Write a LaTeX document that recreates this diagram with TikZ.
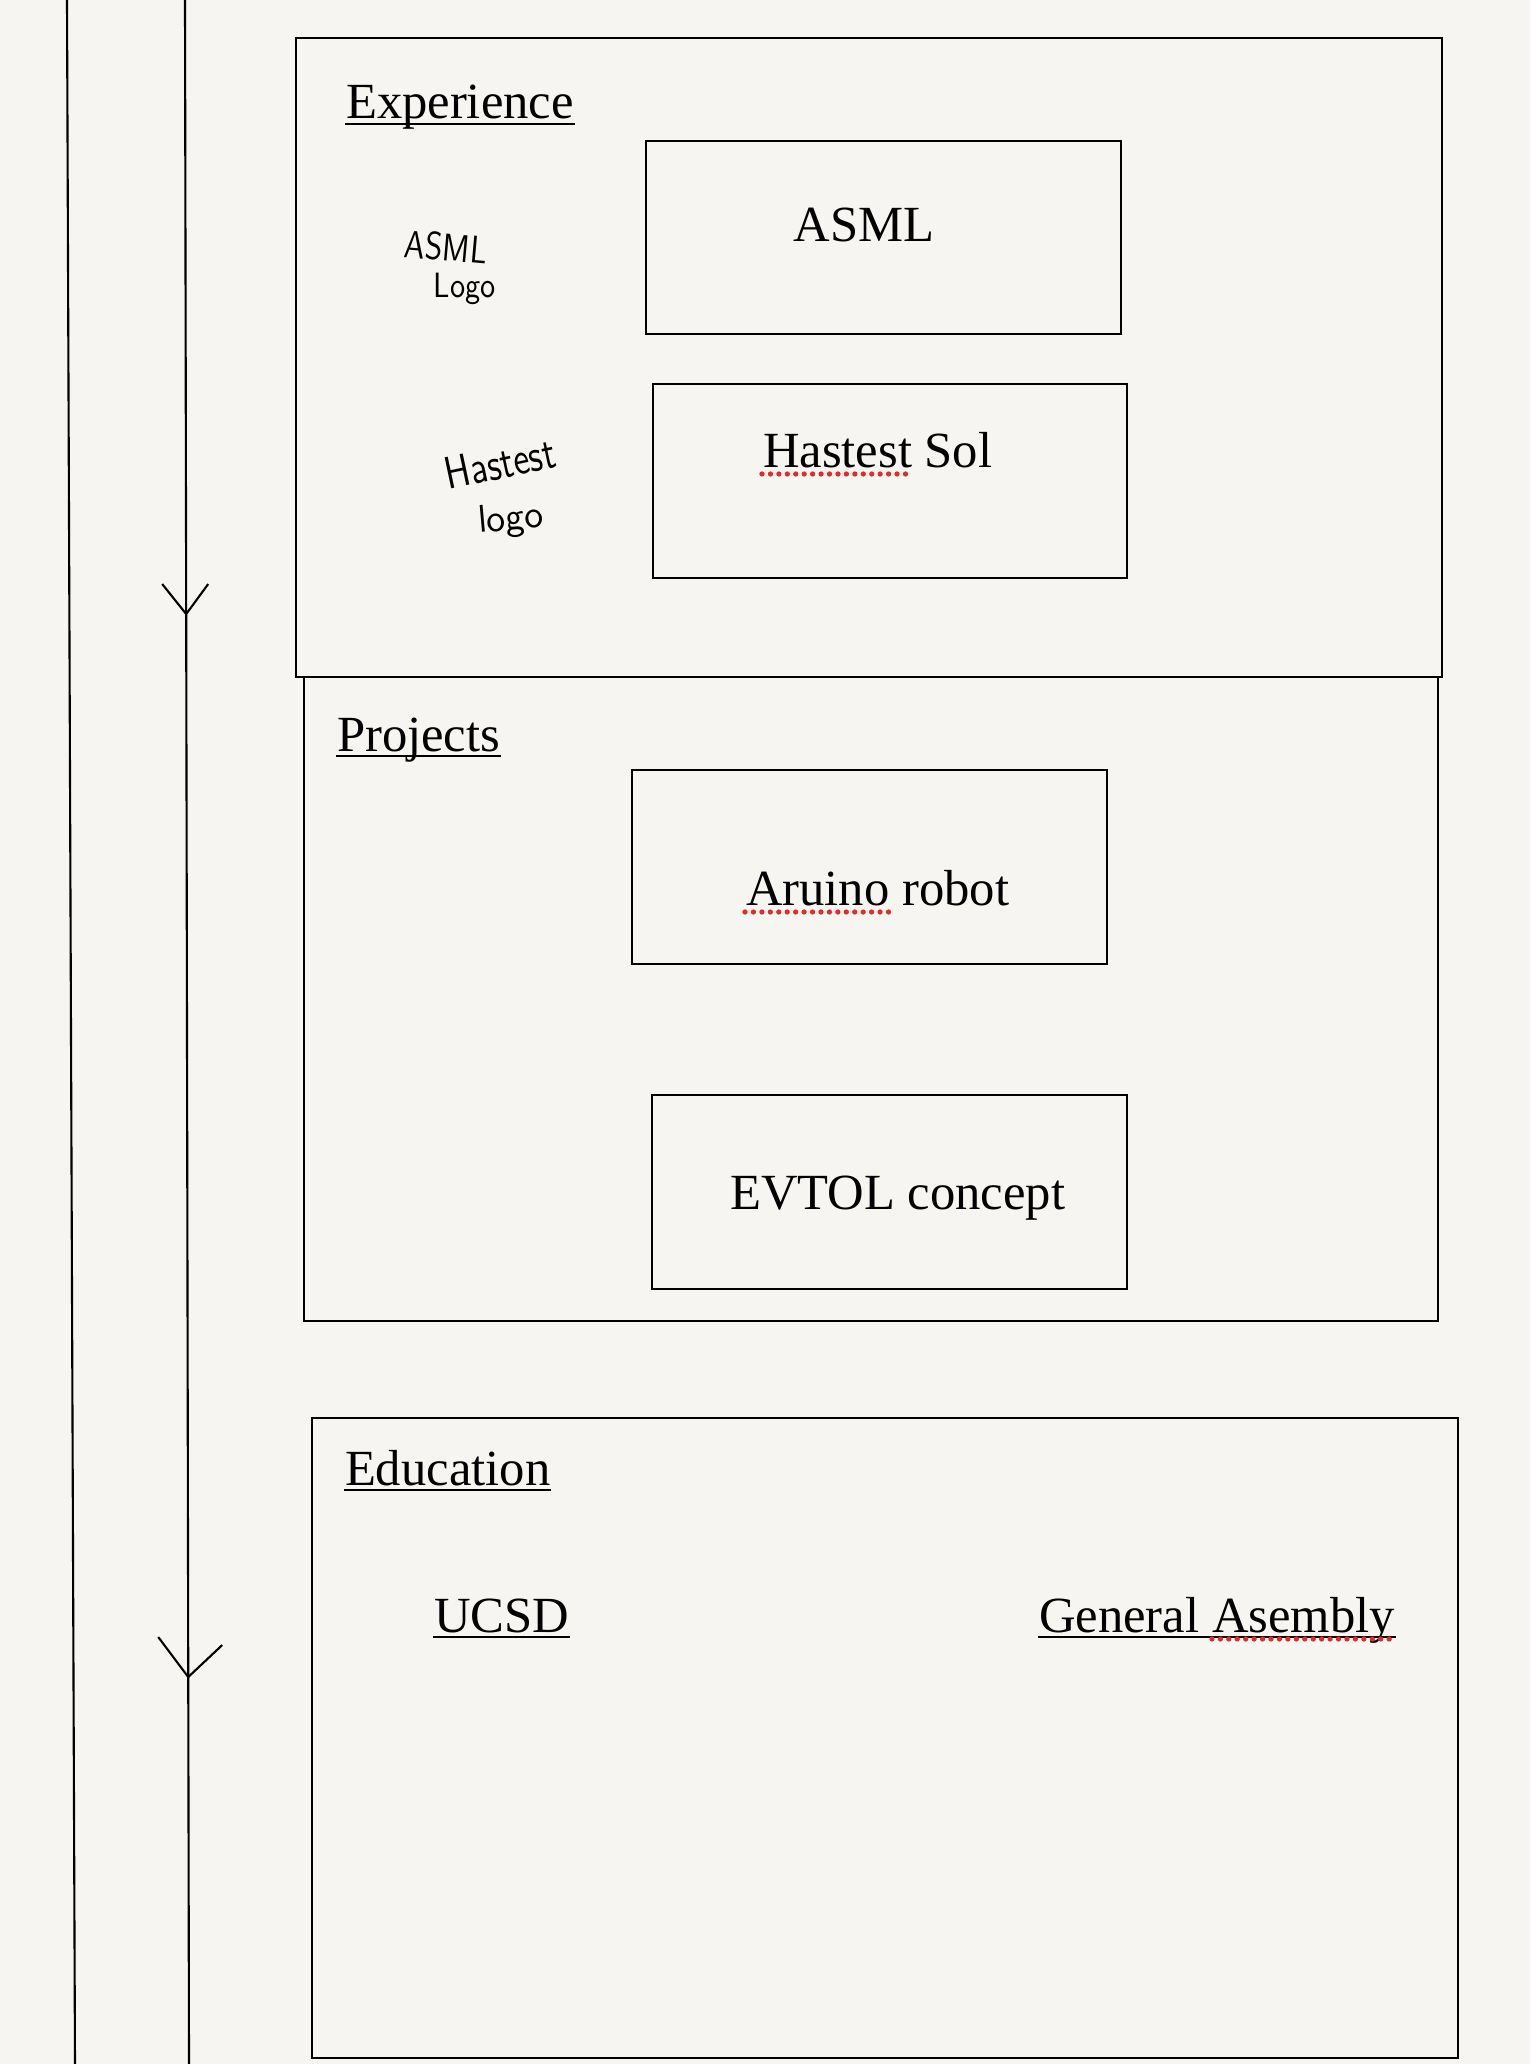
\documentclass[tikz,border=0pt]{standalone}
\usepackage{fontspec}
\setmainfont{Liberation Serif}
\usetikzlibrary{positioning,fit,calc}
\definecolor{paper}{RGB}{246,245,241}
\definecolor{spellred}{RGB}{225,45,40}

\begin{document}
\begin{tikzpicture}
	[x=0.01cm,y=-0.01cm,line width=0.6pt,
	 every node/.style={inner sep=0pt,font=\fontsize{14.4}{17}\selectfont},
	 box/.style={draw,inner sep=0pt,fit={#1}},
	 hand/.style={font=\sffamily\fontsize{#1}{#1}\selectfont},
	 spellchk/.style={spellred,line width=1.5pt,line cap=round,dash pattern=on 0pt off 2.4pt}]
	\fill[paper] (0,0) rectangle (1530,2064);
	\useasboundingbox (0,0) rectangle (1530,2064);

	% time line
	\coordinate (l1top) at (67,0);
	\coordinate (l1bot) at (75,2064);
	\coordinate (l2top) at (185,0);
	\coordinate (l2bot) at (189,2064);
	\coordinate (tip1) at ($(l2top)!0.2975!(l2bot)$);
	\coordinate (tip2) at ($(l2top)!0.8125!(l2bot)$);
	\draw (l1top) -- (l1bot);
	\draw (l2top) -- (l2bot);
	\draw ($(tip1)+(-24,-30)$) -- (tip1) -- ($(tip1)+(22,-30)$);
	\draw ($(tip2)+(-30,-40)$) -- (tip2) -- ($(tip2)+(34,-32)$);

	% sections
	\node[box={(296,38) (1442,677)}] (exp) {};
	\node[box={(304,677) (1438,1321)}] (proj) {};
	\node[box={(312,1418) (1458,2058)}] (edu) {};
	\node[box={(646,141) (1121,334)}] (asml) {};
	\node[box={(653,384) (1127,578)}] (hast) {};
	\node[box={(632,770) (1107,964)}] (ardu) {};
	\node[box={(652,1095) (1127,1289)}] (evtol) {};

	\node[anchor=base west] (explbl) at (345,119) {Experience};
	\node[anchor=base west] (projlbl) at (336,751) {Projects};
	\node[anchor=base west] (edulbl) at (344,1485) {Education};
	\node[anchor=base west] (ucsdlbl) at (433,1632) {UCSD};
	\node[anchor=base west] (galbl) at (1038,1632) {General Asembly};
	\node[anchor=base] (asmllbl) at (864,242) {ASML};
	\node[anchor=base west] (hastlbl) at (762,467) {Hastest Sol};
	\node[anchor=base west] (ardulbl) at (745,905) {Aruino robot};
	\node[anchor=base west] (evtollbl) at (729,1209) {EVTOL concept};

	% logos
	\node[hand=11,rotate=-5,xscale=0.83,anchor=base west] (asmllogo) at (403,257) {ASML};
	\node[hand=10,xscale=0.86,anchor=base west] (asmllogob) at (433,298) {Logo};
	\node[hand=13,rotate=12,xscale=0.8,anchor=base west] (hastlogo) at (448,490) {Hastest};
	\node[hand=11,rotate=5,anchor=base west] (hastlogob) at (478,533) {logo};

	\foreach \lbl in {explbl, projlbl, edulbl, ucsdlbl, galbl}
	\draw[line width=0.75pt] ($(\lbl.base west)+(0,5)$) -- ($(\lbl.base east)+(0,5)$);
	\foreach \lbl/\from/\to in {hastlbl/0/0.65, ardulbl/0/0.545, galbl/0.486/1}
	\draw[spellchk] ($(\lbl.base west)!\from!(\lbl.base east)+(0,7)$) -- ($(\lbl.base west)!\to!(\lbl.base east)+(0,7)$);
\end{tikzpicture}
\end{document}
